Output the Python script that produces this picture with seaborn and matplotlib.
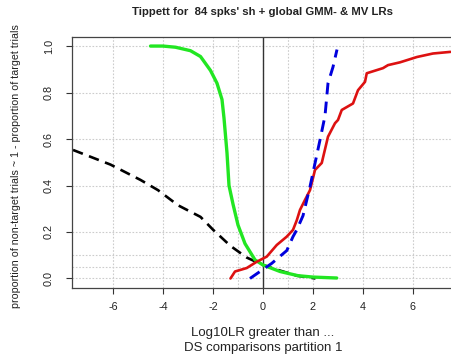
import matplotlib
matplotlib.use("Agg")
import matplotlib.pyplot as plt
import seaborn as sns

sns.set_style("white")
plt.rcParams["font.family"] = ["Liberation Sans", "DejaVu Sans"]

# Tippett curves (log10 LR threshold vs. proportion)
green_x = [-4.5, -4.0, -3.5, -2.9, -2.5, -2.1, -1.84, -1.64, -1.56, -1.44, -1.36,
           -1.2, -1.0, -0.72, -0.32, 0.0, 0.68, 1.4, 2.0, 2.95]
green_y = [1.0, 1.0, 0.995, 0.98, 0.955, 0.895, 0.84, 0.77, 0.69, 0.54, 0.40,
           0.32, 0.23, 0.15, 0.08, 0.058, 0.03, 0.012, 0.006, 0.002]

black_x = [-7.6, -6.1, -4.9, -4.2, -3.4, -2.5, -2.0, -1.3, -0.65, 0.0, 0.68, 1.35, 2.1]
black_y = [0.553, 0.49, 0.424, 0.38, 0.315, 0.265, 0.21, 0.14, 0.09, 0.058, 0.034, 0.012, 0.0]

blue_x = [-0.52, -0.12, 0.35, 0.95, 1.2, 1.35, 1.6, 1.88, 2.28, 2.48, 2.6, 2.8, 2.96]
blue_y = [0.0, 0.03, 0.065, 0.12, 0.18, 0.209, 0.27, 0.395, 0.596, 0.70, 0.84, 0.91, 0.985]

red_x = [-1.3, -1.12, -0.65, -0.25, 0.15, 0.55, 0.95, 1.2, 1.35, 1.48, 1.68, 1.88, 2.08,
         2.35, 2.6, 2.88, 3.0, 3.15, 3.6, 3.8, 4.08, 4.15, 4.8, 5.0, 5.48, 6.16, 6.8, 7.5]
red_y = [0.0, 0.03, 0.045, 0.072, 0.094, 0.144, 0.18, 0.209, 0.25, 0.295, 0.338, 0.38, 0.467,
         0.497, 0.61, 0.668, 0.682, 0.725, 0.753, 0.81, 0.846, 0.883, 0.905, 0.918, 0.93,
         0.953, 0.968, 0.975]

x_ticks = [-6, -4, -2, 0, 2, 4, 6]
y_ticks = [0.0, 0.2, 0.4, 0.6, 0.8, 1.0]
x_grid = [-6, -4, -2, -1, 0, 1, 2, 4, 6]
y_grid = [0.0, 0.05, 0.1, 0.2, 0.4, 0.6, 0.8, 1.0]

fig = plt.figure(figsize=(4.51, 3.54), dpi=100)
ax = fig.add_axes([72 / 451, 1 - 288 / 354, (453 - 72) / 451, (288 - 37) / 354])

for g in x_grid:
    ax.axvline(g, color="#cccccc", lw=0.8, ls=(0, (1.5, 1.5)), zorder=0)
for g in y_grid:
    ax.axhline(g, color="#cccccc", lw=0.8, ls=(0, (1.5, 1.5)), zorder=0)
ax.axvline(0, color="#333333", lw=1.0, zorder=1)

sns.lineplot(x=black_x, y=black_y, ax=ax, sort=False, color="black", lw=1.9,
             linestyle=(0, (4, 2.5)))
sns.lineplot(x=green_x, y=green_y, ax=ax, sort=False, color="#22e622", lw=2.4)
sns.lineplot(x=red_x, y=red_y, ax=ax, sort=False, color="#dd1111", lw=1.9)
sns.lineplot(x=blue_x, y=blue_y, ax=ax, sort=False, color="#0000dd", lw=2.1,
             linestyle=(0, (4, 2.5)))

ax.set_xlim(-7.64, 7.6)
ax.set_ylim(-0.041, 1.039)
ax.set_xticks(x_ticks)
ax.set_xticklabels([str(t) for t in x_ticks])
ax.set_yticks(y_ticks)
ax.set_yticklabels([f"{t:.1f}" for t in y_ticks], rotation=90, va="center")
ax.tick_params(direction="out", length=4, width=0.8, color="#333333",
               labelsize=7.8, labelcolor="#222222", left=True, bottom=True)
ax.tick_params(axis="x", pad=6)
ax.tick_params(axis="y", pad=9)
for s in ax.spines.values():
    s.set_color("#444444")
    s.set_linewidth(0.9)

fig.text(262 / 451, 1 - 12 / 354,
         "Tippett for  84 spks' sh + global GMM- & MV LRs",
         ha="center", va="center", fontsize=8.2, fontweight="bold", color="#222222")
fig.text(263 / 451, 1 - 333 / 354, "Log10LR greater than ...",
         ha="center", va="center", fontsize=9.5, color="#222222")
fig.text(263 / 451, 1 - 348 / 354, "DS comparisons partition 1",
         ha="center", va="center", fontsize=9.5, color="#222222")
fig.text(16 / 451, 1 - 166 / 354,
         "proportion of non-target trials ~ 1 - proportion of target trials",
         ha="center", va="center", rotation=90, fontsize=7.7, color="#222222")

fig.savefig("out.png", dpi=100)
